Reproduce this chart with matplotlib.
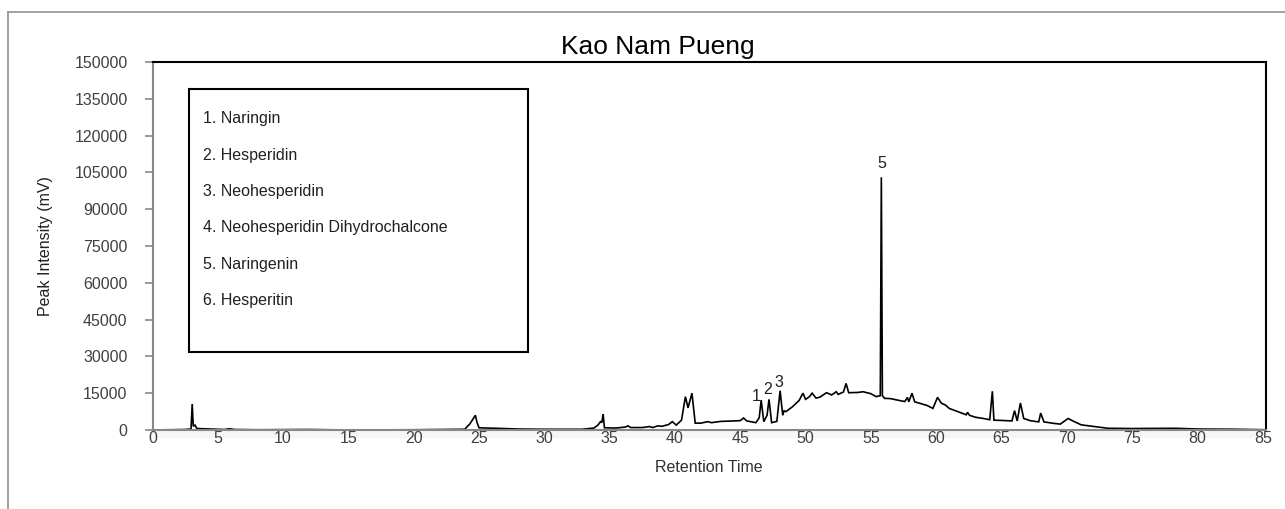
import matplotlib
matplotlib.use("Agg")
import matplotlib.pyplot as plt
from matplotlib.patches import Rectangle
from matplotlib.lines import Line2D

plt.rcParams['font.family'] = ['Liberation Sans', 'DejaVu Sans']

# Retention time (min) and intensity (mV)
time = [0.0, 2.5, 2.95, 3.04, 3.12, 3.25, 3.4, 4.5, 5.5, 5.9, 6.3, 8.0, 12.0, 15.0, 20.0,
        23.9, 24.3, 24.6, 24.72, 24.85, 25.0, 25.5, 26.3, 28.0, 30.0, 32.9, 33.8, 34.1,
        34.3, 34.4, 34.5, 34.6, 35.5, 36.2, 36.4, 36.6, 37.5, 38.05, 38.3, 38.7, 39.0,
        39.5, 39.8, 40.1, 40.5, 40.8, 41.0, 41.3, 41.55, 42.0, 42.5, 42.8, 43.5, 44.5,
        45.0, 45.25, 45.5, 46.2, 46.45, 46.6, 46.8, 47.05, 47.2, 47.4, 47.8, 48.05,
        48.25, 48.35, 48.5, 49.0, 49.5, 49.8, 50.0, 50.3, 50.5, 50.8, 51.1, 51.6, 52.0,
        52.35, 52.5, 52.7, 52.9, 53.1, 53.3, 54.0, 54.4, 55.0, 55.4, 55.72, 55.8, 55.88,
        56.05, 56.5, 57.2, 57.6, 57.8, 57.9, 58.15, 58.35, 58.8, 59.3, 59.75, 60.1, 60.4,
        60.7, 61.0, 61.5, 62.0, 62.3, 62.4, 62.55, 63.0, 63.5, 64.1, 64.3, 64.42, 65.0,
        65.8, 66.0, 66.2, 66.45, 66.7, 67.2, 67.85, 68.0, 68.25, 69.0, 69.5, 70.1, 70.5,
        71.1, 72.0, 73.15, 75.0, 78.3, 80.0, 83.0, 85.3]
intensity = [0, 200, 400, 10600, 1500, 2000, 600, 400, 200, 500, 200, 100, 200, 0, 100,
             300, 2500, 5000, 6000, 3000, 900, 800, 700, 400, 300, 300, 800, 2000,
             3400, 3000, 6500, 900, 800, 1200, 1700, 1000, 1000, 1400, 1000, 1700, 1500,
             2200, 3400, 2000, 4000, 13600, 9000, 15000, 2800, 2800, 3400, 3000, 3500, 3700,
             3800, 4900, 3700, 3000, 5000, 12200, 3400, 6000, 12500, 3000, 3500, 16000,
             6000, 7800, 7500, 9500, 12000, 15000, 12500, 13600, 15000, 13000, 13400, 15200, 14300,
             15600, 14500, 15000, 15500, 19000, 15200, 15300, 15600, 14800, 13600, 14000, 103000, 14000,
             12900, 12800, 12000, 11600, 13300, 11500, 15000, 11500, 10800, 10000, 8800, 13300, 10900,
             10200, 8800, 7800, 6800, 6200, 7200, 6000, 5200, 4800, 4200, 15800, 4000, 3900,
             3700, 7900, 3700, 11000, 4700, 3800, 3300, 6900, 3300, 2700, 2400, 4700, 3600,
             2100, 1500, 700, 600, 700, 400, 300, 100]

peak_labels = ["1", "2", "3", "5"]
peak_label_time = [46.2, 47.1, 47.95, 55.8]
peak_label_y = [13600, 16700, 19300, 108500]

legend_items = ["1. Naringin", "2. Hesperidin", "3. Neohesperidin",
                "4. Neohesperidin Dihydrochalcone", "5. Naringenin", "6. Hesperitin"]

x_ticks = list(range(0, 90, 5))
y_ticks = list(range(0, 150001, 15000))

W, H = 1285, 509
fig = plt.figure(figsize=(W / 100, H / 100), dpi=100)
L, R, T, B = 152.5, 1266, 62, 430
ax = fig.add_axes([L / W, 1 - B / H, (R - L) / W, (B - T) / H])

ax.plot(time, intensity, color='black', lw=1.2, solid_joinstyle='miter')
ax.set_xlim(0, 85.25)
ax.set_ylim(0, 150000)
ax.set_xticks(x_ticks)
ax.set_yticks(y_ticks)
ax.tick_params(axis='y', direction='out', length=6, width=1.2, color='#888888',
               labelsize=11.5, labelcolor='#404040', pad=12)
ax.tick_params(axis='x', length=0, labelsize=11.5, labelcolor='#404040', pad=1)

for s in ['left', 'bottom']:
    ax.spines[s].set_color('#888888')
    ax.spines[s].set_linewidth(1.5)
for s in ['top', 'right']:
    ax.spines[s].set_color('black')
    ax.spines[s].set_linewidth(1.5)

# light band under the axis
ax.add_patch(Rectangle((0, -0.022), 1, 0.022, transform=ax.transAxes,
                       facecolor='#f7f6f2', edgecolor='none', clip_on=False, zorder=0))

ax.set_xlabel('Retention Time', fontsize=11.5, color='#303030', labelpad=10)
ax.set_ylabel('Peak Intensity (mV)', fontsize=11.5, color='#202020', labelpad=15)
fig.text(658 / W, 1 - 47 / H, 'Kao Nam Pueng', fontsize=19, ha='center', va='center',
         color='black')

for lab, tx, ty in zip(peak_labels, peak_label_time, peak_label_y):
    ax.text(tx, ty, lab, ha='center', va='center', fontsize=11.5, color='#202020')

# legend box
bx0, bx1, by0, by1 = 189, 528, 89, 352
ax.add_patch(Rectangle(((bx0 - L) / (R - L), (B - by1) / (B - T)),
                       (bx1 - bx0) / (R - L), (by1 - by0) / (B - T),
                       transform=ax.transAxes, facecolor='white', edgecolor='black',
                       lw=1.5, zorder=3))
for i, item in enumerate(legend_items):
    yy = 119 + i * 36.3
    ax.text((203 - L) / (R - L), (B - yy) / (B - T), item, transform=ax.transAxes,
            ha='left', va='center', fontsize=11.5, color='#202020', zorder=4)

# outer frame
fx = 7.5 / W
fy = 1 - 11.5 / H
fig.add_artist(Line2D([fx, 1.0], [fy, fy], transform=fig.transFigure, color='#9a9a9a', lw=1.3))
fig.add_artist(Line2D([fx, fx], [fy, 0.0], transform=fig.transFigure, color='#9a9a9a', lw=1.3))

fig.savefig('out.png', dpi=100)
